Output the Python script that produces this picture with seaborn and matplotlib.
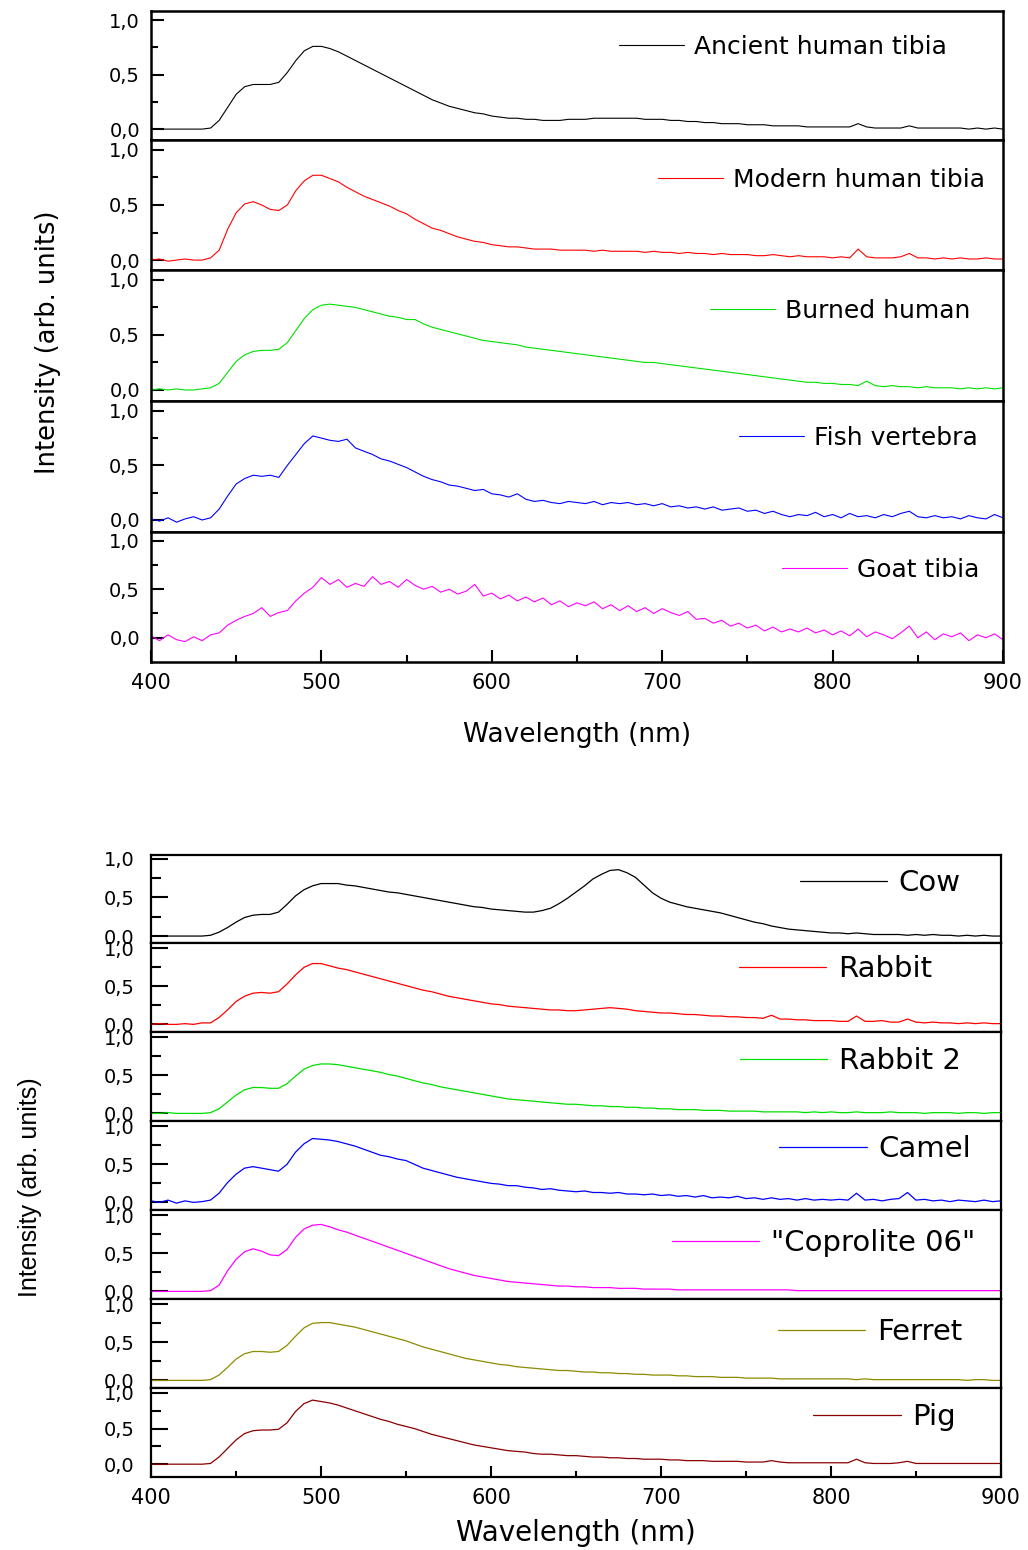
import matplotlib
matplotlib.use("Agg")
import matplotlib.pyplot as plt
import seaborn as sns
from matplotlib.ticker import FixedLocator, MultipleLocator, FuncFormatter

# ---------------- data ----------------
wavelength = list(range(400, 905, 5))  # nm, 101 points

ancient_tibia = [
    0.00, 0.00, 0.00, 0.00, 0.00, 0.00, 0.00, 0.01, 0.08, 0.20,
    0.32, 0.39, 0.41, 0.41, 0.41, 0.43, 0.52, 0.63, 0.72, 0.76,
    0.76, 0.74, 0.71, 0.67, 0.63, 0.59, 0.55, 0.51, 0.47, 0.43,
    0.39, 0.35, 0.31, 0.27, 0.24, 0.21, 0.19, 0.17, 0.15, 0.14,
    0.12, 0.11, 0.10, 0.10, 0.09, 0.09, 0.08, 0.08, 0.08, 0.09,
    0.09, 0.09, 0.10, 0.10, 0.10, 0.10, 0.10, 0.10, 0.09, 0.09,
    0.09, 0.08, 0.08, 0.07, 0.07, 0.06, 0.06, 0.05, 0.05, 0.05,
    0.04, 0.04, 0.04, 0.03, 0.03, 0.03, 0.03, 0.02, 0.02, 0.02,
    0.02, 0.02, 0.02, 0.05, 0.02, 0.01, 0.01, 0.01, 0.01, 0.03,
    0.01, 0.01, 0.01, 0.01, 0.01, 0.01, 0.00, 0.01, 0.00, 0.01,
    0.00]

modern_tibia = [
    0.00, 0.01, -0.01, 0.00, 0.01, 0.00, 0.00, 0.02, 0.09, 0.28,
    0.43, 0.51, 0.53, 0.50, 0.46, 0.45, 0.50, 0.63, 0.72, 0.77,
    0.77, 0.74, 0.71, 0.66, 0.62, 0.58, 0.55, 0.52, 0.49, 0.45,
    0.42, 0.37, 0.33, 0.29, 0.27, 0.24, 0.21, 0.19, 0.17, 0.16,
    0.14, 0.13, 0.12, 0.12, 0.11, 0.10, 0.10, 0.10, 0.09, 0.09,
    0.09, 0.09, 0.08, 0.09, 0.08, 0.08, 0.08, 0.08, 0.07, 0.08,
    0.07, 0.07, 0.06, 0.07, 0.06, 0.06, 0.05, 0.06, 0.05, 0.05,
    0.05, 0.04, 0.04, 0.05, 0.04, 0.03, 0.04, 0.03, 0.03, 0.03,
    0.02, 0.03, 0.02, 0.10, 0.03, 0.02, 0.02, 0.02, 0.03, 0.06,
    0.02, 0.02, 0.01, 0.02, 0.01, 0.02, 0.01, 0.01, 0.02, 0.01,
    0.01]

burned_human = [
    0.00, 0.01, 0.00, 0.01, 0.00, 0.00, 0.01, 0.02, 0.06, 0.16,
    0.26, 0.32, 0.35, 0.36, 0.36, 0.37, 0.43, 0.54, 0.65, 0.73,
    0.77, 0.78, 0.77, 0.76, 0.75, 0.73, 0.71, 0.69, 0.67, 0.66,
    0.64, 0.64, 0.60, 0.57, 0.55, 0.53, 0.51, 0.49, 0.47, 0.45,
    0.44, 0.43, 0.42, 0.41, 0.39, 0.38, 0.37, 0.36, 0.35, 0.34,
    0.33, 0.32, 0.31, 0.30, 0.29, 0.28, 0.27, 0.26, 0.25, 0.25,
    0.24, 0.23, 0.22, 0.21, 0.20, 0.19, 0.18, 0.17, 0.16, 0.15,
    0.14, 0.13, 0.12, 0.11, 0.10, 0.09, 0.08, 0.07, 0.07, 0.06,
    0.06, 0.05, 0.05, 0.04, 0.08, 0.04, 0.03, 0.04, 0.03, 0.03,
    0.02, 0.03, 0.02, 0.02, 0.02, 0.01, 0.02, 0.01, 0.02, 0.01,
    0.02]

fish_vertebra = [
    0.01, -0.01, 0.02, -0.02, 0.01, 0.03, 0.00, 0.02, 0.10, 0.22,
    0.33, 0.38, 0.41, 0.40, 0.41, 0.39, 0.50, 0.60, 0.70, 0.77,
    0.75, 0.73, 0.72, 0.74, 0.66, 0.63, 0.60, 0.56, 0.54, 0.51,
    0.48, 0.44, 0.40, 0.37, 0.35, 0.32, 0.31, 0.29, 0.27, 0.28,
    0.24, 0.23, 0.21, 0.24, 0.19, 0.17, 0.18, 0.16, 0.15, 0.17,
    0.16, 0.15, 0.17, 0.14, 0.16, 0.15, 0.16, 0.14, 0.15, 0.13,
    0.15, 0.12, 0.13, 0.11, 0.12, 0.10, 0.12, 0.09, 0.10, 0.11,
    0.08, 0.09, 0.06, 0.08, 0.05, 0.03, 0.05, 0.04, 0.07, 0.03,
    0.05, 0.02, 0.06, 0.03, 0.04, 0.02, 0.05, 0.03, 0.06, 0.08,
    0.03, 0.02, 0.04, 0.02, 0.03, 0.01, 0.04, 0.02, 0.01, 0.05,
    0.02]

goat_tibia = [
    0.02, -0.03, 0.03, -0.02, -0.04, 0.01, -0.03, 0.03, 0.05, 0.13,
    0.18, 0.22, 0.25, 0.31, 0.22, 0.26, 0.28, 0.38, 0.46, 0.52,
    0.62, 0.55, 0.60, 0.52, 0.56, 0.53, 0.63, 0.55, 0.58, 0.52,
    0.60, 0.54, 0.50, 0.53, 0.47, 0.50, 0.45, 0.48, 0.55, 0.43,
    0.46, 0.40, 0.44, 0.38, 0.42, 0.37, 0.41, 0.34, 0.38, 0.32,
    0.36, 0.33, 0.37, 0.30, 0.34, 0.28, 0.33, 0.27, 0.31, 0.25,
    0.30, 0.26, 0.23, 0.27, 0.19, 0.20, 0.15, 0.18, 0.12, 0.15,
    0.10, 0.13, 0.07, 0.11, 0.06, 0.09, 0.06, 0.10, 0.05, 0.08,
    0.03, 0.07, 0.02, 0.09, 0.01, 0.06, 0.03, -0.01, 0.05, 0.12,
    0.00, 0.06, -0.02, 0.04, 0.01, 0.05, -0.03, 0.03, 0.00, 0.04,
    -0.02]

cow = [
    0.00, 0.00, 0.00, 0.00, 0.00, 0.00, 0.00, 0.01, 0.05, 0.11,
    0.18, 0.24, 0.27, 0.28, 0.28, 0.31, 0.41, 0.52, 0.60, 0.65,
    0.68, 0.68, 0.68, 0.66, 0.65, 0.63, 0.61, 0.59, 0.57, 0.56,
    0.54, 0.52, 0.50, 0.48, 0.46, 0.44, 0.42, 0.40, 0.38, 0.37,
    0.35, 0.34, 0.33, 0.32, 0.31, 0.31, 0.33, 0.36, 0.42, 0.49,
    0.57, 0.65, 0.74, 0.80, 0.85, 0.86, 0.82, 0.76, 0.66, 0.56,
    0.49, 0.44, 0.41, 0.38, 0.36, 0.34, 0.32, 0.30, 0.27, 0.24,
    0.21, 0.18, 0.16, 0.13, 0.11, 0.09, 0.08, 0.07, 0.06, 0.05,
    0.04, 0.04, 0.03, 0.04, 0.03, 0.02, 0.02, 0.02, 0.02, 0.01,
    0.02, 0.01, 0.02, 0.01, 0.01, 0.00, 0.01, 0.00, 0.01, 0.00,
    0.00]

rabbit = [
    0.00, 0.01, 0.00, 0.00, 0.01, 0.00, 0.02, 0.02, 0.09, 0.19,
    0.30, 0.37, 0.41, 0.42, 0.41, 0.43, 0.53, 0.65, 0.75, 0.80,
    0.80, 0.77, 0.74, 0.72, 0.69, 0.66, 0.63, 0.60, 0.57, 0.54,
    0.51, 0.48, 0.45, 0.43, 0.40, 0.37, 0.35, 0.33, 0.31, 0.29,
    0.27, 0.26, 0.24, 0.23, 0.22, 0.21, 0.20, 0.19, 0.19, 0.18,
    0.18, 0.19, 0.20, 0.21, 0.22, 0.21, 0.20, 0.18, 0.17, 0.16,
    0.15, 0.15, 0.14, 0.13, 0.13, 0.12, 0.11, 0.11, 0.10, 0.10,
    0.09, 0.09, 0.08, 0.12, 0.07, 0.07, 0.06, 0.06, 0.05, 0.05,
    0.05, 0.04, 0.04, 0.11, 0.04, 0.04, 0.05, 0.03, 0.03, 0.07,
    0.03, 0.02, 0.03, 0.02, 0.02, 0.01, 0.02, 0.01, 0.02, 0.01,
    0.01]

rabbit_2 = [
    0.00, 0.00, 0.01, 0.00, 0.00, 0.00, 0.00, 0.01, 0.06, 0.15,
    0.24, 0.31, 0.34, 0.34, 0.33, 0.33, 0.39, 0.49, 0.58, 0.63,
    0.65, 0.65, 0.64, 0.62, 0.60, 0.58, 0.56, 0.54, 0.51, 0.49,
    0.46, 0.43, 0.40, 0.38, 0.35, 0.33, 0.31, 0.29, 0.27, 0.25,
    0.23, 0.21, 0.19, 0.18, 0.17, 0.16, 0.15, 0.14, 0.13, 0.12,
    0.12, 0.11, 0.10, 0.10, 0.09, 0.09, 0.08, 0.08, 0.07, 0.07,
    0.06, 0.06, 0.05, 0.05, 0.05, 0.04, 0.04, 0.04, 0.03, 0.03,
    0.03, 0.03, 0.02, 0.02, 0.02, 0.02, 0.02, 0.01, 0.02, 0.01,
    0.02, 0.01, 0.01, 0.02, 0.01, 0.01, 0.01, 0.02, 0.01, 0.01,
    0.01, 0.00, 0.01, 0.01, 0.01, 0.00, 0.01, 0.01, 0.00, 0.01,
    0.01]

camel = [
    0.02, 0.00, 0.03, -0.01, 0.02, 0.00, 0.01, 0.03, 0.12, 0.26,
    0.37, 0.45, 0.47, 0.45, 0.43, 0.41, 0.50, 0.66, 0.77, 0.84,
    0.83, 0.82, 0.80, 0.77, 0.74, 0.70, 0.66, 0.62, 0.60, 0.57,
    0.55, 0.50, 0.45, 0.42, 0.39, 0.36, 0.33, 0.31, 0.29, 0.27,
    0.25, 0.24, 0.22, 0.22, 0.20, 0.19, 0.17, 0.18, 0.16, 0.15,
    0.14, 0.15, 0.13, 0.13, 0.12, 0.13, 0.11, 0.11, 0.10, 0.11,
    0.09, 0.10, 0.08, 0.09, 0.07, 0.09, 0.06, 0.07, 0.06, 0.08,
    0.05, 0.06, 0.04, 0.06, 0.04, 0.05, 0.03, 0.05, 0.03, 0.04,
    0.03, 0.04, 0.03, 0.12, 0.03, 0.04, 0.02, 0.04, 0.05, 0.13,
    0.03, 0.04, 0.02, 0.03, 0.01, 0.03, 0.02, 0.01, 0.03, 0.01,
    0.02]

coprolite_06 = [
    0.00, 0.00, 0.00, 0.00, 0.00, 0.00, 0.00, 0.01, 0.08, 0.27,
    0.42, 0.52, 0.56, 0.53, 0.48, 0.47, 0.55, 0.71, 0.82, 0.87,
    0.88, 0.85, 0.81, 0.78, 0.74, 0.70, 0.66, 0.62, 0.58, 0.54,
    0.50, 0.46, 0.42, 0.38, 0.34, 0.30, 0.27, 0.24, 0.21, 0.19,
    0.17, 0.15, 0.13, 0.12, 0.11, 0.10, 0.09, 0.08, 0.07, 0.07,
    0.06, 0.06, 0.05, 0.05, 0.05, 0.04, 0.04, 0.04, 0.03, 0.03,
    0.03, 0.03, 0.02, 0.02, 0.02, 0.02, 0.02, 0.02, 0.02, 0.02,
    0.02, 0.02, 0.02, 0.02, 0.02, 0.02, 0.01, 0.01, 0.01, 0.01,
    0.01, 0.01, 0.01, 0.01, 0.01, 0.01, 0.01, 0.01, 0.01, 0.01,
    0.01, 0.01, 0.01, 0.01, 0.01, 0.01, 0.01, 0.01, 0.01, 0.01,
    0.01]

ferret = [
    0.00, 0.00, 0.00, 0.00, 0.00, 0.00, 0.00, 0.01, 0.07, 0.17,
    0.28, 0.35, 0.38, 0.38, 0.37, 0.38, 0.46, 0.58, 0.69, 0.75,
    0.76, 0.76, 0.74, 0.72, 0.70, 0.67, 0.64, 0.61, 0.58, 0.55,
    0.52, 0.48, 0.44, 0.41, 0.38, 0.35, 0.32, 0.29, 0.27, 0.25,
    0.23, 0.21, 0.20, 0.18, 0.17, 0.16, 0.15, 0.14, 0.13, 0.13,
    0.12, 0.11, 0.11, 0.10, 0.10, 0.09, 0.09, 0.08, 0.08, 0.07,
    0.07, 0.07, 0.06, 0.06, 0.05, 0.05, 0.05, 0.04, 0.04, 0.04,
    0.03, 0.03, 0.03, 0.03, 0.02, 0.02, 0.02, 0.02, 0.02, 0.02,
    0.02, 0.02, 0.02, 0.01, 0.02, 0.01, 0.01, 0.01, 0.01, 0.01,
    0.01, 0.01, 0.01, 0.01, 0.01, 0.01, 0.00, 0.01, 0.01, 0.00,
    0.00]

pig = [
    0.00, 0.00, 0.00, 0.00, 0.00, 0.00, 0.00, 0.01, 0.10, 0.22,
    0.34, 0.43, 0.47, 0.48, 0.48, 0.49, 0.58, 0.74, 0.85, 0.90,
    0.88, 0.86, 0.83, 0.79, 0.75, 0.71, 0.67, 0.63, 0.60, 0.56,
    0.53, 0.50, 0.46, 0.42, 0.39, 0.36, 0.33, 0.30, 0.27, 0.25,
    0.23, 0.21, 0.19, 0.18, 0.17, 0.15, 0.14, 0.14, 0.13, 0.12,
    0.12, 0.11, 0.10, 0.10, 0.09, 0.09, 0.08, 0.08, 0.07, 0.07,
    0.07, 0.06, 0.06, 0.05, 0.05, 0.05, 0.04, 0.04, 0.04, 0.04,
    0.03, 0.03, 0.03, 0.05, 0.03, 0.02, 0.02, 0.02, 0.02, 0.02,
    0.02, 0.02, 0.02, 0.07, 0.02, 0.01, 0.01, 0.01, 0.02, 0.04,
    0.01, 0.01, 0.01, 0.01, 0.01, 0.01, 0.01, 0.01, 0.01, 0.01,
    0.01]

top_names = ["Ancient human tibia", "Modern human tibia", "Burned human",
             "Fish vertebra", "Goat tibia"]
top_series = [ancient_tibia, modern_tibia, burned_human, fish_vertebra, goat_tibia]
top_colors = ["#000000", "#FF0000", "#00E000", "#0000FF", "#FF00FF"]

bottom_names = ["Cow", "Rabbit", "Rabbit 2", "Camel", '"Coprolite 06"',
                "Ferret", "Pig"]
bottom_series = [cow, rabbit, rabbit_2, camel, coprolite_06, ferret, pig]
bottom_colors = ["#000000", "#FF0000", "#00E000", "#0000FF", "#FF00FF",
                 "#8C8C00", "#8B0000"]

y_tick_values = [0.0, 0.5, 1.0]
y_minor_values = [0.25, 0.75]
x_label_text = "Wavelength (nm)"
y_label_text = "Intensity (arb. units)"

# ---------------- style ----------------
sns.set_theme(style="white")
plt.rcParams["font.family"] = ["DejaVu Sans"]
plt.rcParams["axes.edgecolor"] = "black"
plt.rcParams["xtick.color"] = "black"
plt.rcParams["ytick.color"] = "black"
plt.rcParams["text.color"] = "black"

W, H = 1028, 1550
fig = plt.figure(figsize=(W / 100, H / 100), dpi=100)
fig.patch.set_facecolor("white")


def px_axes(left, top, right, bottom):
    return fig.add_axes([left / W, 1 - bottom / H, (right - left) / W, (bottom - top) / H])


comma_fmt = FuncFormatter(lambda v, p: f"{v:.1f}".replace(".", ","))


def draw_group(names, series, colors, left, right, edges, ylims, leg_right, leg_y,
               cfg):
    n = len(names)
    for i in range(n):
        top, bottom = edges[i], edges[i + 1]
        ax = px_axes(left, top, right, bottom)
        ax.set_facecolor("white")
        sns.lineplot(x=wavelength, y=series[i], ax=ax, color=colors[i],
                     linewidth=cfg["lw"], label=names[i], errorbar=None)
        ax.set_xlim(400, 900)
        ax.set_ylim(*ylims[i])
        ax.set_xlabel("")
        ax.set_ylabel("")
        ax.yaxis.set_major_locator(FixedLocator(y_tick_values))
        ax.yaxis.set_minor_locator(FixedLocator(y_minor_values))
        ax.yaxis.set_major_formatter(comma_fmt)
        ax.xaxis.set_major_locator(MultipleLocator(100))
        ax.xaxis.set_minor_locator(MultipleLocator(50))
        ax.tick_params(axis="y", which="major", direction="in", length=cfg["ymaj"],
                       width=cfg["tw"], labelsize=cfg["ytick_fs"], pad=cfg["ypad"],
                       left=True, right=False)
        ax.tick_params(axis="y", which="minor", direction="in", length=cfg["ymin"],
                       width=cfg["tw"], left=True, right=False)
        last = (i == n - 1)
        ax.tick_params(axis="x", which="major", direction="in", length=cfg["xmaj"],
                       width=cfg["tw"], labelsize=cfg["xtick_fs"], pad=cfg["xpad"],
                       bottom=last, labelbottom=last, top=False)
        ax.tick_params(axis="x", which="minor", direction="in", length=cfg["xmin"],
                       width=cfg["tw"], bottom=last, top=False)
        for sp in ax.spines.values():
            sp.set_visible(True)
            sp.set_color("black")
            sp.set_linewidth(cfg["spine"])
        h = bottom - top
        ax.legend(loc="center right",
                  bbox_to_anchor=((leg_right[i] - left) / (right - left),
                                  1 - (leg_y[i] - top) / h),
                  frameon=False, borderpad=0, borderaxespad=0,
                  handlelength=cfg["hl"], handletextpad=cfg["htp"],
                  prop={"size": cfg["leg_fs"], "family": cfg["leg_family"]})


top_cfg = dict(lw=0.8, ymaj=9, ymin=5, xmaj=9, xmin=5, tw=1.5, ytick_fs=14,
               xtick_fs=15, ypad=8, xpad=8, spine=1.8, hl=2.6, htp=0.4,
               leg_fs=18, leg_family=["DejaVu Sans"])
draw_group(top_names, top_series, top_colors, 151, 1003,
           [11, 140, 270, 401, 532, 662],
           [(-0.10, 1.085), (-0.09, 1.09), (-0.10, 1.09), (-0.11, 1.09), (-0.25, 1.09)],
           [947, 985, 970, 978, 979],
           [47, 180, 311, 438, 570],
           top_cfg)

bot_cfg = dict(lw=0.9, ymaj=12, ymin=7, xmaj=8, xmin=4.5, tw=1.5, ytick_fs=14,
               xtick_fs=15, ypad=12, xpad=8, spine=1.6, hl=3.0, htp=0.4,
               leg_fs=21, leg_family=["DejaVu Sans"])
draw_group(bottom_names, bottom_series, bottom_colors, 151, 1001,
           [855, 943, 1032, 1121, 1210, 1299, 1388, 1477],
           [(-0.09, 1.05), (-0.10, 1.07), (-0.10, 1.07), (-0.10, 1.07),
            (-0.10, 1.07), (-0.10, 1.07), (-0.18, 1.07)],
           [961, 932, 961, 971, 975, 962, 956],
           [883, 969, 1061, 1149, 1243, 1332, 1417],
           bot_cfg)

# axis titles
fig.text(577 / W, 1 - 735 / H, x_label_text, ha="center", va="center",
         fontsize=19, family=["DejaVu Sans"])
fig.text(48 / W, 1 - 342 / H, y_label_text, ha="center", va="center",
         rotation=90, fontsize=18.5, family=["DejaVu Sans"])
fig.text(576 / W, 1 - 1533 / H, x_label_text, ha="center", va="center",
         fontsize=20, family=["DejaVu Sans"])
fig.text(30 / W, 1 - 1187 / H, y_label_text, ha="center", va="center",
         rotation=90, fontsize=18,
         family=["Liberation Sans Narrow", "DejaVu Sans Condensed", "Liberation Sans"])

fig.savefig("out.png", dpi=100, facecolor="white")
